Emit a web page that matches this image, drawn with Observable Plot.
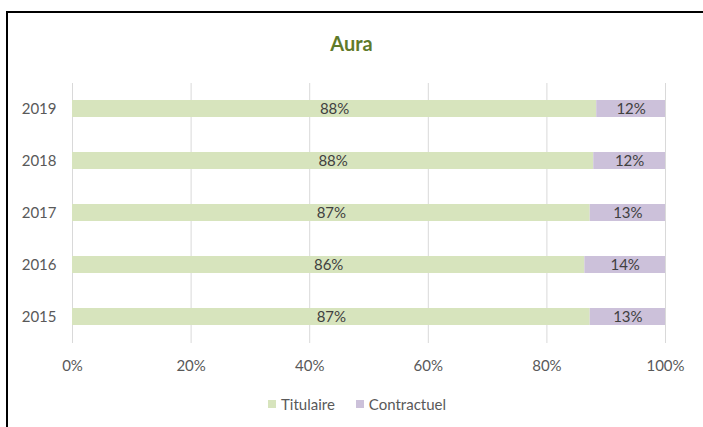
<!DOCTYPE html>
<html>
<head>
<meta charset="utf-8">
<script src="https://cdn.jsdelivr.net/npm/d3@7"></script>
<script src="https://cdn.jsdelivr.net/npm/@observablehq/plot@0.6"></script>
<style>
  html, body { margin: 0; padding: 0; background: #fff; }
  #wrap { position: relative; width: 703px; height: 427px; overflow: hidden; font-family: Lato, "Open Sans", sans-serif; }
  #border { position: absolute; left: 6px; top: 11px; width: 710px; height: 430px; border-left: 2px solid #000; border-top: 2px solid #000; box-sizing: border-box; pointer-events: none; }
  #title { position: absolute; left: 0; width: 703px; top: 31px; text-align: center; font-size: 20px; font-weight: bold; color: #5f7a2a; }
  #legend { position: absolute; top: 395px; left: 268px; font-size: 15px; color: #595959; display: flex; align-items: center; }
  #legend .sw { display: inline-block; width: 8px; height: 8px; margin-right: 5px; }
  #legend .item { display: flex; align-items: center; margin-right: 21px; }
  svg { position: absolute; left: 0; top: 0; }
</style>
</head>
<body>
<div id="wrap">
  <div id="chart"></div>
  <div id="title">Aura</div>
  <div id="legend"></div>
  <div id="border"></div>
</div>
<script>
const years = ["2019", "2018", "2017", "2016", "2015"];
const titulaire = [88.4, 87.9, 87.3, 86.4, 87.3];
const contractuel = [11.6, 12.1, 12.7, 13.6, 12.7];
const seriesNames = ["Titulaire", "Contractuel"];
const seriesColors = ["#d7e4bd", "#ccc1da"];
const xTicks = [0, 20, 40, 60, 80, 100];

const data = [];
years.forEach((y, i) => {
  data.push({year: y, series: seriesNames[0], value: titulaire[i]});
  data.push({year: y, series: seriesNames[1], value: contractuel[i]});
});

const chart = Plot.plot({
  width: 703,
  height: 427,
  marginLeft: 72,
  marginRight: 38,
  marginTop: 83,
  marginBottom: 84,
  style: {fontFamily: "Lato, 'Open Sans', sans-serif", fontSize: "15px", color: "#595959", background: "transparent"},
  x: {domain: [0, 100], ticks: xTicks, tickFormat: d => d + "%", label: null, grid: false},
  y: {domain: years, paddingInner: 0.67, paddingOuter: 0.335, label: null},
  color: {domain: seriesNames, range: seriesColors},
  marks: [
    Plot.ruleX(xTicks, {x: d => d, stroke: "#d9d9d9", strokeWidth: 1}),
    Plot.barX(data, Plot.stackX({x: "value", y: "year", fill: "series", order: seriesNames})),
    Plot.text(data, Plot.stackX({x: "value", y: "year", z: "series", order: seriesNames, text: d => Math.round(d.value) + "%", fill: "#404040", fontSize: 15})),
    Plot.axisX({ticks: xTicks, tickFormat: d => d + "%", tickSize: 0, tickPadding: 17, label: null, fontSize: 15, fill: "#595959"}),
    Plot.axisY({tickSize: 0, tickPadding: 16, label: null, fontSize: 15, fill: "#595959"})
  ]
});
document.getElementById("chart").appendChild(chart);

const legend = document.getElementById("legend");
seriesNames.forEach((n, i) => {
  const it = document.createElement("span");
  it.className = "item";
  it.innerHTML = `<span class="sw" style="background:${seriesColors[i]}"></span>${n}`;
  legend.appendChild(it);
});
</script>
</body>
</html>
